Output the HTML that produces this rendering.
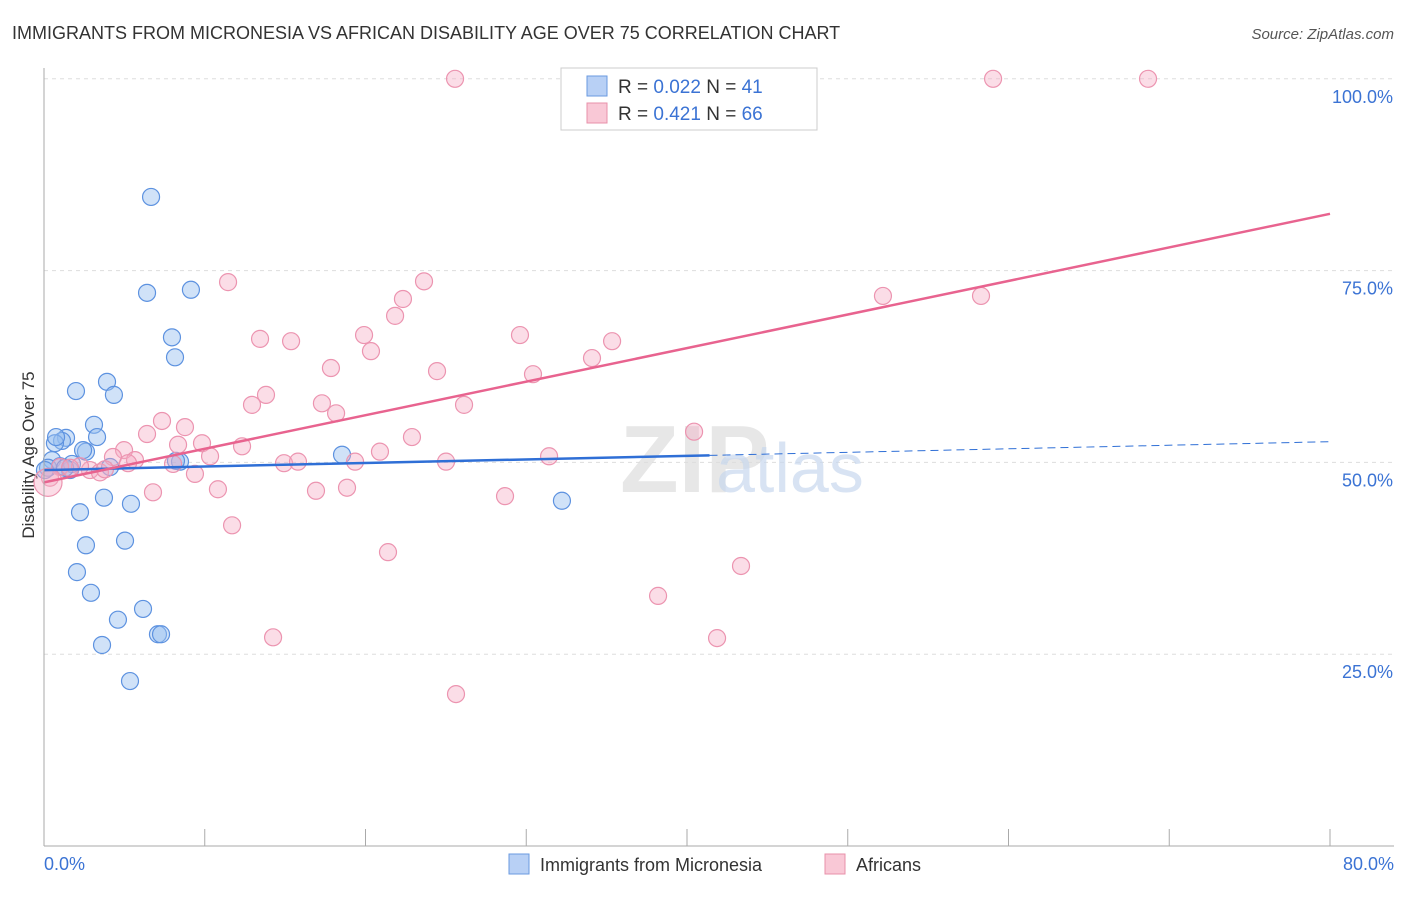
<!DOCTYPE html>
<html><head><meta charset="utf-8"><style>
body{margin:0;background:#fff;font-family:"Liberation Sans",sans-serif}
svg text{font-family:"Liberation Sans",sans-serif}
</style></head><body>
<svg id="c" width="1406" height="892">
<text x="12" y="39" font-size="18" fill="#333">IMMIGRANTS FROM MICRONESIA VS AFRICAN DISABILITY AGE OVER 75 CORRELATION CHART</text>
<text x="1394" y="39" font-size="15" fill="#555" text-anchor="end" font-style="italic">Source: ZipAtlas.com</text>
<text x="34" y="455" font-size="17" fill="#333" text-anchor="middle" transform="rotate(-90 34 455)">Disability Age Over 75</text>
<g id="grid"></g>
<text x="620" y="492" font-size="96" fill="#ddd" font-weight="bold" font-family="Liberation Serif" opacity="0.7">ZIP</text>
<text x="716" y="492" font-size="70" fill="#c8d8ee" opacity="0.7">atlas</text>
<g id="pts"></g>
<g id="trend"></g>
<line x1="44" y1="68" x2="44" y2="846" stroke="#aaa"/>
<line x1="44" y1="846" x2="1394" y2="846" stroke="#aaa"/>
<text x="44" y="870" font-size="18" fill="#3b73d4">0.0%</text>
<text x="1394" y="870" font-size="18" fill="#3b73d4" text-anchor="end">80.0%</text>
<g>
<rect x="561" y="68" width="256" height="62" fill="#fff" stroke="#ccc"/>
<rect x="587" y="76" width="20" height="20" fill="#b8d0f5" stroke="#6a9ae0"/>
<rect x="587" y="103" width="20" height="20" fill="#f9c8d6" stroke="#e890aa"/>
<text x="618" y="93" font-size="19" fill="#333">R = <tspan fill="#3b73d4">0.022</tspan>   N = <tspan fill="#3b73d4">41</tspan></text>
<text x="618" y="120" font-size="19" fill="#333">R = <tspan fill="#3b73d4"> 0.421</tspan>   N = <tspan fill="#3b73d4">66</tspan></text>
</g>
<g>
<rect x="509" y="854" width="20" height="20" fill="#b8d0f5" stroke="#6a9ae0"/>
<text x="540" y="871" font-size="18" fill="#333">Immigrants from Micronesia</text>
<rect x="825" y="854" width="20" height="20" fill="#f9c8d6" stroke="#e890aa"/>
<text x="856" y="871" font-size="18" fill="#333">Africans</text>
</g>
</svg>
<script>
const yTicks=[25,50,75,100];
const yTickLabels=["25.0%","50.0%","75.0%","100.0%"];
const xTicks=[0,10,20,30,40,50,60,70,80];
const blueX=[6.66,6.41,9.14,7.96,8.15,1.99,3.92,4.35,3.11,3.30,1.37,1.12,0.68,0.75,2.61,2.43,0.50,0.25,1.00,1.62,4.11,8.46,8.21,18.54,3.73,5.41,2.24,2.61,5.04,2.05,2.92,6.16,4.60,7.09,7.28,3.61,5.35,32.22,1.74,1.31,0.06];
const blueY=[84.6,72.1,72.5,66.3,63.7,59.3,60.5,58.8,54.9,53.3,53.2,52.8,52.5,53.3,51.4,51.6,50.3,49.3,49.5,49.0,49.4,50.1,50.2,51.0,45.4,44.6,43.5,39.2,39.8,35.7,33.0,30.9,29.5,27.6,27.6,26.2,21.5,45.0,49.8,49.3,49.0];
const pinkX=[25.57,33.03,59.04,68.68,11.45,23.64,22.33,21.84,52.19,58.29,19.91,29.61,35.34,13.44,15.37,20.34,34.09,17.85,24.45,30.42,13.81,12.94,17.29,18.17,26.13,7.34,8.77,6.41,22.89,40.44,4.98,8.34,9.83,12.32,20.90,31.42,10.33,4.29,5.66,8.03,14.93,15.80,19.35,25.01,9.39,2.86,3.48,3.79,1.00,0.37,2.24,6.78,10.82,16.92,18.85,28.68,11.70,21.40,43.36,38.20,14.25,41.87,25.63,1.62,0.25,5.23];
const pinkY=[100,100,100,100,73.5,73.6,71.3,69.1,71.7,71.7,66.6,66.6,65.8,66.1,65.8,64.5,63.6,62.3,61.9,61.5,58.8,57.5,57.7,56.4,57.5,55.4,54.6,53.7,53.3,54.0,51.6,52.3,52.5,52.1,51.4,50.8,50.8,50.7,50.3,49.8,49.9,50.1,50.1,50.1,48.5,49.0,48.7,49.1,49.4,48.0,49.5,46.1,46.5,46.3,46.7,45.6,41.8,38.3,36.5,32.6,27.2,27.1,19.8,49.3,47.4,49.9];
const blueTrend=[49.0,52.7];
const pinkTrend=[47.4,82.4];
const blueSolidEnd=41.4;
const X=v=>44+v/80*1286, Y=v=>846-v*7.672;
const NS="http://www.w3.org/2000/svg";
function mk(t,a,p){const e=document.createElementNS(NS,t);for(const k in a)e.setAttribute(k,a[k]);p.appendChild(e);return e;}
const grid=document.getElementById('grid');
yTicks.forEach((t,i)=>{
  const l=mk('line',{x1:44,x2:1394,y1:Y(t),y2:Y(t),stroke:'#ddd','stroke-dasharray':'4 4'},grid);
  
  
  const tx=mk('text',{x:1393,y:Y(t)+24,'font-size':18,fill:'#3b73d4','text-anchor':'end'},grid);
  tx.textContent=yTickLabels[i];
  
  
});
xTicks.forEach(t=>{
  const l=mk('line',{x1:X(t),x2:X(t),y1:829,y2:846,stroke:'#aaa'},grid);
  
  
});
const pts=document.getElementById('pts');
blueX.forEach((x,i)=>{
  const c=mk('circle',{cx:X(x),cy:Y(blueY[i]),r:8.5,fill:'rgba(150,190,240,0.45)',stroke:'#5d92e0','stroke-width':1.2},pts);
  
  
});
pinkX.forEach((x,i)=>{
  const c=mk('circle',{cx:X(x),cy:Y(pinkY[i]),r:(i==64?14:8.5),fill:'rgba(245,170,195,0.4)',stroke:'#ec94b0','stroke-width':1.2},pts);
  
  
});
const tr=document.getElementById('trend');
const bAt=v=>blueTrend[0]+(blueTrend[1]-blueTrend[0])*v/80;
const b1=mk('line',{x1:X(0),y1:Y(bAt(0)),x2:X(blueSolidEnd),y2:Y(bAt(blueSolidEnd)),stroke:'#2f6fd6','stroke-width':2.5},tr);


const b2=mk('line',{x1:X(blueSolidEnd),y1:Y(bAt(blueSolidEnd)),x2:X(80),y2:Y(bAt(80)),stroke:'#2f6fd6','stroke-width':1,'stroke-dasharray':'8 5'},tr);


const p1=mk('line',{x1:X(0),y1:Y(pinkTrend[0]),x2:X(80),y2:Y(pinkTrend[1]),stroke:'#e8638f','stroke-width':2.5},tr);


</script>
</body></html>
